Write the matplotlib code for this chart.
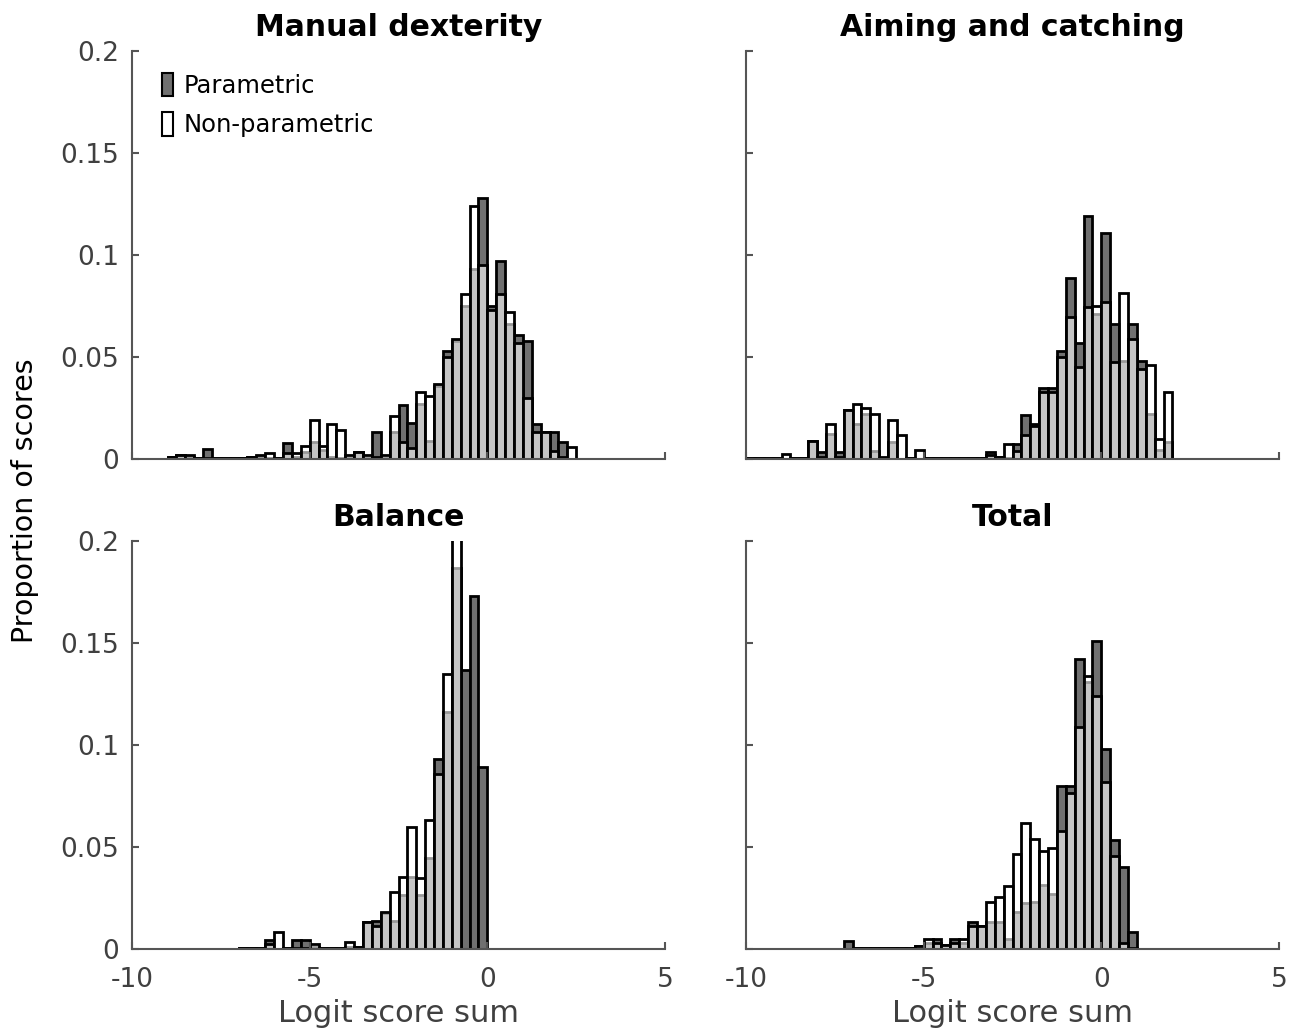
#!/usr/bin/env python
# -*- coding: utf-8 -*-

#...for the plotting.
import matplotlib
matplotlib.use("Agg")
import matplotlib.pyplot as plt
from matplotlib.patches import Patch

#...for the MATH.
import numpy as np

# Bin width of every histogram (logit units).
bin_width = 0.25

# Manual dexterity: first bin edge and proportions per bin.
md_start = -9.0
md_param = [0.001, 0.002, 0.001, 0.0005, 0.005, 0.0005, 0.0005, 0.0005, 0.0005, 0.001,
            0.001, 0.0005, 0.0005, 0.008, 0.001, 0.0035, 0.0085, 0.0044, 0.001, 0.0005,
            0.0005, 0.0036, 0.0005, 0.013, 0.0005, 0.013, 0.0265, 0.0175, 0.027, 0.009,
            0.036, 0.053, 0.058, 0.075, 0.093, 0.128, 0.075, 0.097, 0.066, 0.061,
            0.058, 0.017, 0.013, 0.013, 0.0085, 0.0]
md_nonparam = [0.001, 0.002, 0.002, 0.0005, 0.0005, 0.0005, 0.0005, 0.0005, 0.0005, 0.001,
               0.002, 0.003, 0.0005, 0.003, 0.003, 0.0065, 0.019, 0.0065, 0.017, 0.014,
               0.002, 0.0036, 0.002, 0.001, 0.002, 0.021, 0.0085, 0.0055, 0.033, 0.031,
               0.037, 0.050, 0.059, 0.081, 0.124, 0.095, 0.073, 0.081, 0.072, 0.057,
               0.030, 0.013, 0.013, 0.004, 0.001, 0.006]

# Aiming and catching.
ac_start = -10.0
ac_param = [0.0005, 0.0005, 0.0005, 0.0005, 0.0, 0.0003, 0.0003, 0.009, 0.0035, 0.0125,
            0.0035, 0.024, 0.017, 0.022, 0.004, 0.001, 0.0085, 0.0, 0.0003, 0.0,
            0.0003, 0.0003, 0.0003, 0.0003, 0.0003, 0.0003, 0.0005, 0.0035, 0.001, 0.0005,
            0.0075, 0.0215, 0.017, 0.035, 0.035, 0.053, 0.0887, 0.057, 0.119, 0.071,
            0.111, 0.066, 0.048, 0.066, 0.048, 0.022, 0.0045, 0.0085]
ac_nonparam = [0.0005, 0.0005, 0.0005, 0.0005, 0.0025, 0.0003, 0.0003, 0.009, 0.001, 0.017,
               0.001, 0.024, 0.027, 0.025, 0.022, 0.0005, 0.019, 0.012, 0.0003, 0.0045,
               0.0003, 0.0003, 0.0003, 0.0003, 0.0003, 0.0003, 0.0005, 0.002, 0.001, 0.0075,
               0.004, 0.0117, 0.016, 0.033, 0.033, 0.050, 0.0694, 0.045, 0.0746, 0.075,
               0.077, 0.0475, 0.0816, 0.059, 0.044, 0.046, 0.010, 0.033]

# Balance.
ba_start = -7.0
ba_param = [0.0007, 0.0003, 0.0007, 0.0044, 0.0, 0.0003, 0.0044, 0.0044, 0.001, 0.0007,
            0.0003, 0.0007, 0.001, 0.001, 0.013, 0.0135, 0.0175, 0.0135, 0.0265, 0.0355,
            0.0265, 0.0446, 0.093, 0.116, 0.187, 0.137, 0.173, 0.089]
ba_nonparam = [0.0007, 0.0003, 0.0007, 0.0025, 0.0082, 0.0003, 0.0003, 0.0003, 0.0025, 0.0007,
               0.0003, 0.0007, 0.0033, 0.001, 0.013, 0.0115, 0.0183, 0.028, 0.0355, 0.060,
               0.0347, 0.063, 0.086, 0.135, 0.24, 0.0, 0.0, 0.0]

# Total.
to_start = -7.25
to_param = [0.004, 0.0005, 0.0005, 0.0005, 0.0005, 0.0005, 0.0005, 0.0005, 0.0015, 0.0028,
            0.0049, 0.002, 0.0049, 0.003, 0.0134, 0.0115, 0.0134, 0.0134, 0.0048, 0.0183,
            0.0224, 0.023, 0.0314, 0.027, 0.080, 0.080, 0.142, 0.131, 0.151, 0.098,
            0.0536, 0.040, 0.0085]
to_nonparam = [0.0, 0.0005, 0.0005, 0.0005, 0.0005, 0.0005, 0.0005, 0.0005, 0.0015, 0.0049,
               0.0028, 0.002, 0.0028, 0.0049, 0.0115, 0.0115, 0.0228, 0.0254, 0.031, 0.0467,
               0.0618, 0.054, 0.048, 0.0495, 0.0577, 0.0765, 0.109, 0.134, 0.124, 0.082,
               0.0457, 0.003, 0.0003]

titles = ["Manual dexterity", "Aiming and catching", "Balance", "Total"]
panels = [(md_start, md_param, md_nonparam),
          (ac_start, ac_param, ac_nonparam),
          (ba_start, ba_param, ba_nonparam),
          (to_start, to_param, to_nonparam)]

y_ticks = [0, 0.05, 0.1, 0.15, 0.2]
y_ticklabels = ["0", "0.05", "0.1", "0.15", "0.2"]
x_ticks = [-10, -5, 0, 5]

dark = "#707070"
axis_col = "#555555"
text_col = "#404040"

## The figure.
fig = plt.figure(figsize=(12.99, 10.28), dpi=100, facecolor="w")

# Axes positions [left, bottom, width, height] in figure fractions.
lefts = [132 / 1299, 746 / 1299]
width = 533 / 1299
bottoms = [1 - 459 / 1028, 1 - 949 / 1028]
height = 408 / 1028

for i, (start, p_vals, n_vals) in enumerate(panels):
    row, col = divmod(i, 2)
    ax = fig.add_axes([lefts[col], bottoms[row], width, height])

    edges = start + bin_width * np.arange(len(p_vals))

    # Parametric first, non-parametric semi-transparent white on top.
    ax.bar(edges, p_vals, width=bin_width, align="edge",
           facecolor=dark, edgecolor="black", linewidth=2.0)
    ax.bar(edges, n_vals, width=bin_width, align="edge",
           facecolor=(1, 1, 1, 0.6), edgecolor="black", linewidth=2.0)

    ax.set_xlim(-10, 5)
    ax.set_ylim(0, 0.2)

    for side in ["top", "right"]:
        ax.spines[side].set_visible(False)
    for side in ["left", "bottom"]:
        ax.spines[side].set_color(axis_col)
        ax.spines[side].set_linewidth(1.5)

    ax.set_xticks(x_ticks)
    ax.set_yticks(y_ticks)
    ax.tick_params(direction="in", length=5, width=1.5, color=axis_col,
                   labelsize=19, labelcolor=text_col)
    ax.tick_params(axis="y", pad=9)
    ax.tick_params(axis="x", pad=13)

    if col == 0:
        ax.set_yticklabels(y_ticklabels)
    else:
        ax.set_yticklabels([])
    if row == 0:
        ax.set_xticklabels([])
    else:
        ax.set_xticklabels([str(t) for t in x_ticks])
        ax.set_xlabel("Logit score sum", fontsize=22, color=text_col, labelpad=4)

    ax.set_title(titles[i], fontsize=21.5, fontweight="bold", pad=11)

    if i == 0:
        handles = [Patch(facecolor=dark, edgecolor="black", linewidth=1.5),
                   Patch(facecolor="white", edgecolor="black", linewidth=1.5)]
        ax.legend(handles, ["Parametric", "Non-parametric"], loc="upper left",
                  bbox_to_anchor=(0.015, 1.0), frameon=False, fontsize=17.5,
                  handlelength=0.45, handleheight=1.1, handletextpad=0.45,
                  labelspacing=0.6)

fig.text(0.019, 0.513, "Proportion of scores", rotation=90, fontsize=20.5,
         ha="center", va="center")

fig.savefig("out.png", dpi=100)
